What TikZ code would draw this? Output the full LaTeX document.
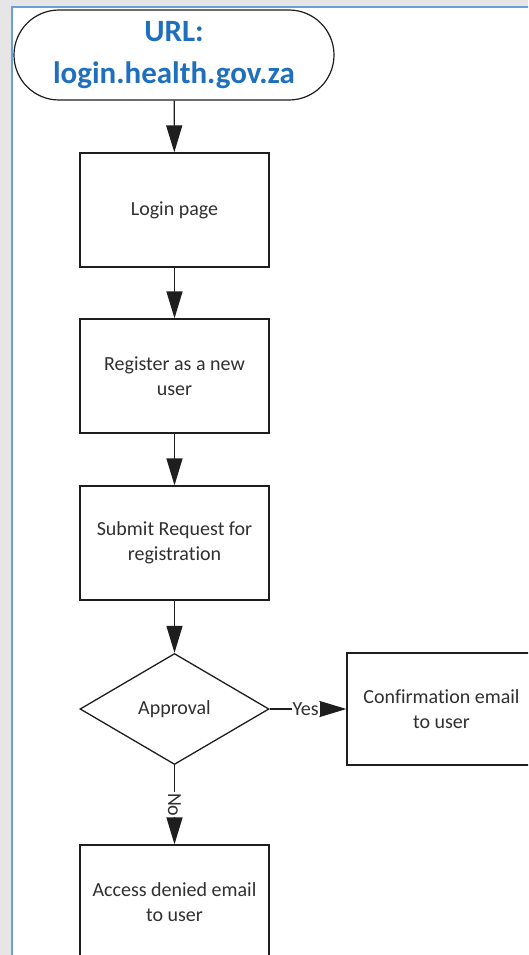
\documentclass[tikz,border=0pt]{standalone}
\usepackage{fontspec}
\setmainfont{Carlito}[Ligatures={NoCommon}]
\usetikzlibrary{shapes.geometric,arrows.meta}
\definecolor{urlblue}{HTML}{1F6FBF}
\definecolor{frameblue}{HTML}{6A9FD8}
\definecolor{txt}{HTML}{303030}
\definecolor{edge}{HTML}{1E1E1E}
\definecolor{pagegray}{HTML}{E6E6E6}
\begin{document}
\begin{tikzpicture}[x=1pt,y=-1pt,
  term/.style={draw=edge, line width=1.2pt, rounded corners=45pt, minimum width=320pt, minimum height=90pt,
    inner sep=0pt, align=center, text=urlblue, font=\bfseries\fontsize{31}{42}\selectfont},
  stepbox/.style={draw=edge, line width=1.3pt, minimum width=189pt, minimum height=114pt,
    inner sep=0pt, align=center, text=txt, font=\fontsize{20}{25}\selectfont},
  decision/.style={draw=edge, line width=1.3pt, diamond, aspect=1.7, minimum width=189pt, minimum height=111pt,
    inner sep=0pt, align=center, text=txt, font=\fontsize{20}{25}\selectfont},
  arr/.style={draw=edge, line width=1.3pt, -{Triangle[length=27pt,width=16pt]}},
  lbl/.style={fill=white, inner sep=1pt, text=txt, font=\fontsize{20}{24}\selectfont}]
\useasboundingbox (0,0) rectangle (528,955);
\clip (0,0) rectangle (528,955);
\fill[pagegray] (0,0) rectangle (528,955);
\fill[white] (12,7) rectangle (540,970);
\draw[frameblue, line width=2pt] (12,970) -- (12,7) -- (540,7);

\node[term] (url) at (174,55) {URL:\\login.health.gov.za};
\node[stepbox] (login) at (174.5,210) {Login page};
\node[stepbox] (reg) at (174.5,376) {Register as a new\\user};
\node[stepbox] (sub) at (174.5,543) {Submit Request for\\registration};
\node[decision] (appr) at (174.5,709) {Approval};
\node[stepbox, minimum height=112pt] (conf) at (441.5,709) {Confirmation email\\to user};
\node[stepbox] (deny) at (174.5,902) {Access denied email\\to user};

\draw[arr] (url) -- (login);
\draw[arr] (login) -- (reg);
\draw[arr] (reg) -- (sub);
\draw[arr] (sub) -- (appr);
\draw[arr] (appr) -- node[lbl, pos=0.47]{Yes} (conf);
\draw[arr] (appr) -- node[lbl, rotate=-90, pos=0.5]{No} (deny);
\end{tikzpicture}
\end{document}
